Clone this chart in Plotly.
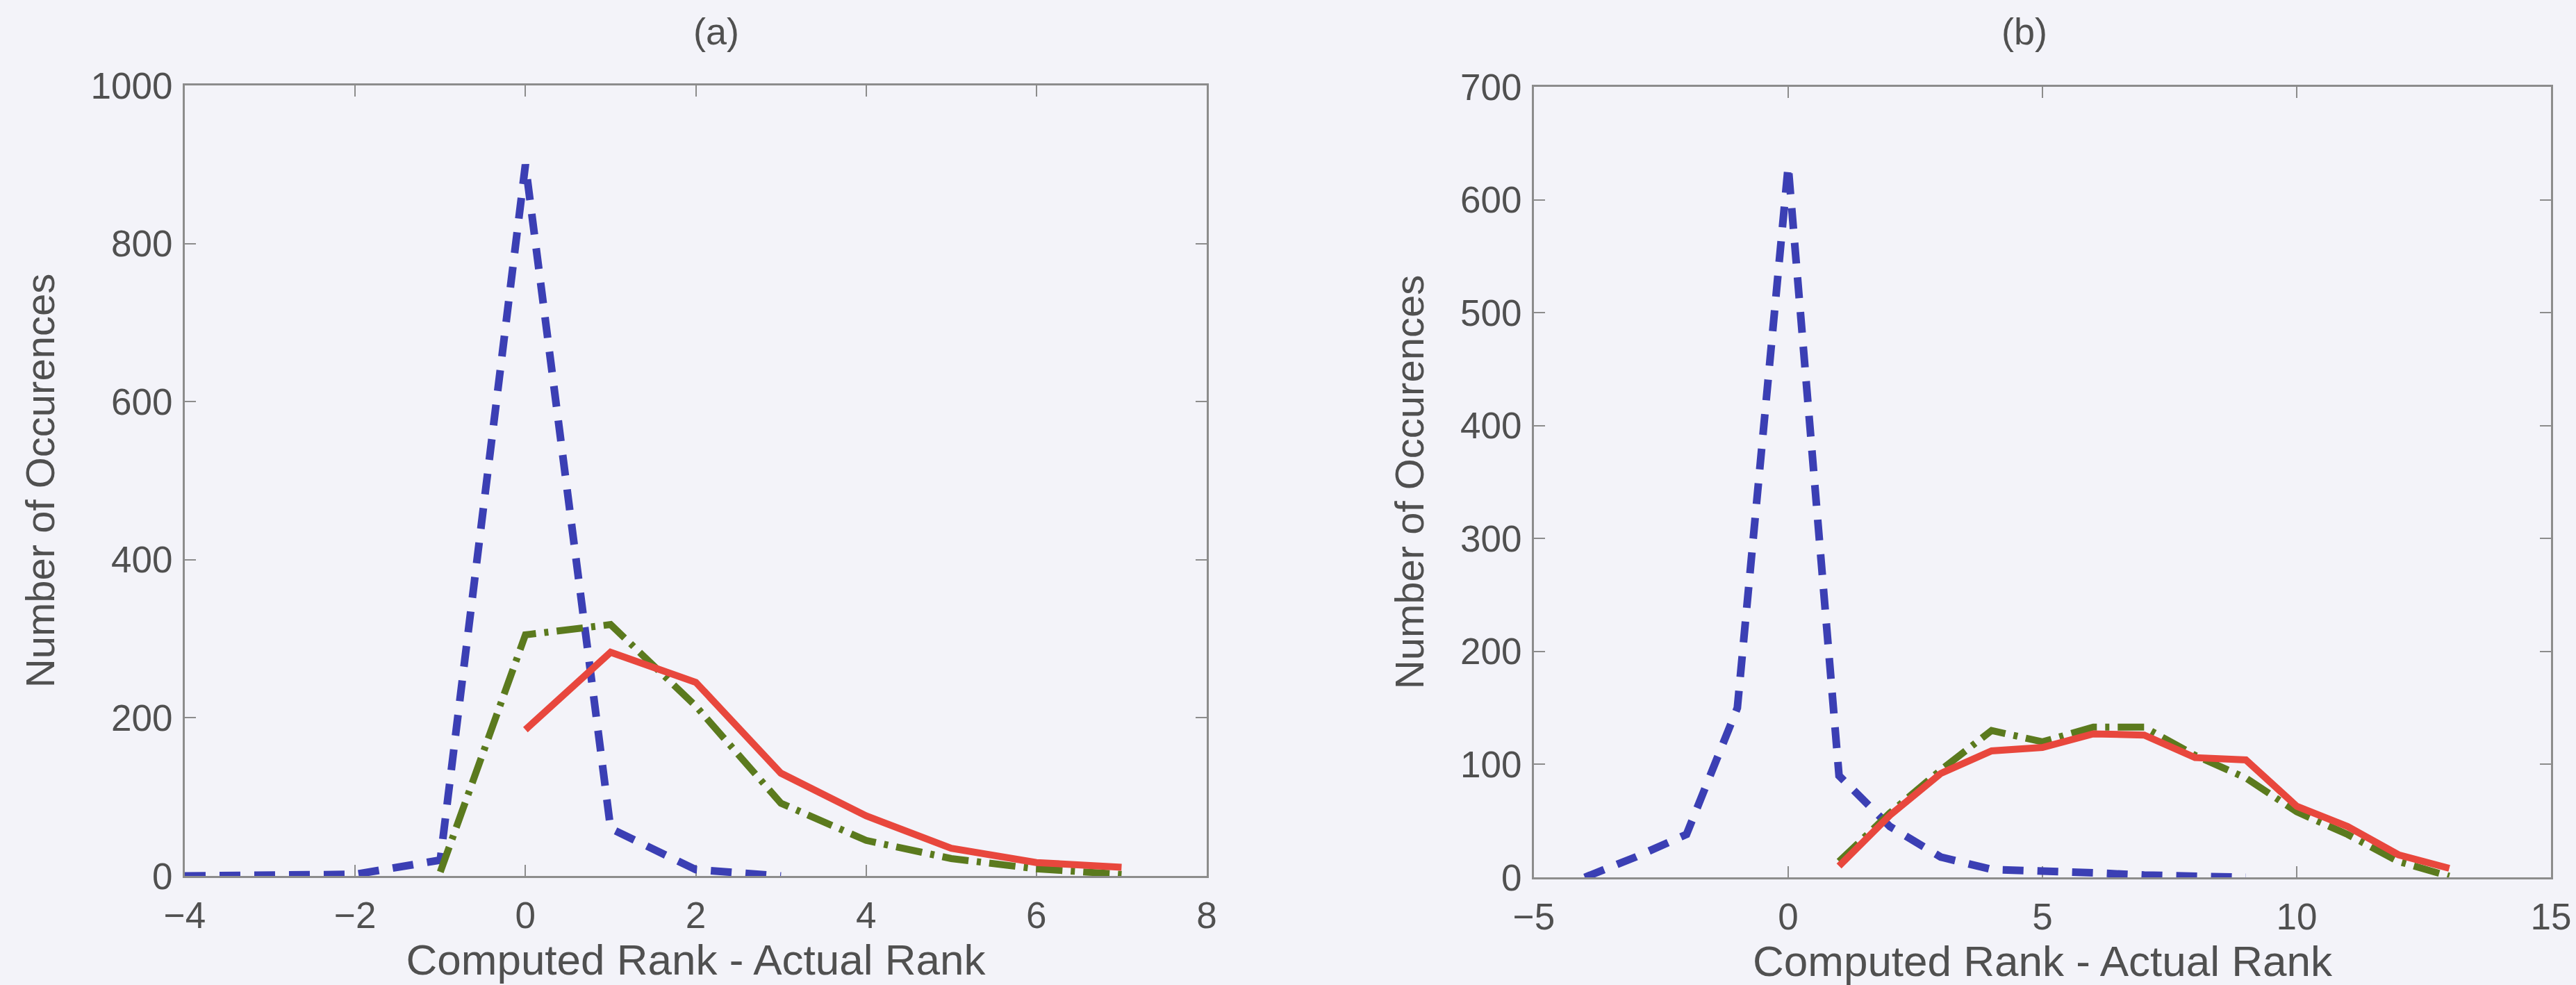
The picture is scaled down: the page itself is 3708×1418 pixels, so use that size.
import plotly.graph_objects as go

# ---------------- data ----------------
# Panel (a)
a_blue_x = [-4, -3, -2, -1, 0, 1, 2, 3]
a_blue_y = [0, 0, 2, 20, 900, 60, 8, 0]
a_green_x = [-1, 0, 1, 2, 3, 4, 5, 6, 7]
a_green_y = [5, 305, 318, 215, 92, 45, 22, 9, 2]
a_red_x = [0, 1, 2, 3, 4, 5, 6, 7]
a_red_y = [185, 283, 245, 130, 76, 35, 17, 11]

# Panel (b)
b_blue_x = [-4, -3, -2, -1, 0, 1, 2, 3, 4, 5, 6, 7, 8, 9]
b_blue_y = [0, 18, 38, 150, 630, 90, 45, 18, 7, 6, 4, 2, 1, 0]
b_green_x = [1, 2, 3, 4, 5, 6, 7, 8, 9, 10, 11, 12, 13]
b_green_y = [14, 57, 95, 130, 120, 133, 133, 108, 88, 58, 38, 14, 1]
b_red_x = [1, 2, 3, 4, 5, 6, 7, 8, 9, 10, 11, 12, 13]
b_red_y = [10, 55, 92, 112, 115, 127, 126, 106, 104, 63, 45, 20, 8]

a_xticks = [-4, -2, 0, 2, 4, 6, 8]
a_yticks = [0, 200, 400, 600, 800, 1000]
b_xticks = [-5, 0, 5, 10, 15]
b_yticks = [0, 100, 200, 300, 400, 500, 600, 700]

panel_titles = ["(a)", "(b)"]
x_title = "Computed Rank - Actual Rank"
y_title = "Number of Occurences"

# ---------------- style ----------------
BG = "#F3F3F9"
AXC = "#8C8C8C"
TXT = "#505050"
BLUE = "#3B3FB4"
GREEN = "#5B7A1E"
RED = "#E8473D"
FONT = "Liberation Sans, Arial, sans-serif"

fig = go.Figure()

def add(x, y, color, dash, xa, ya, width=10):
    fig.add_trace(go.Scatter(x=x, y=y, mode="lines", xaxis=xa, yaxis=ya,
                             line=dict(color=color, width=width, dash=dash),
                             showlegend=False, hoverinfo="skip"))

BLUE_DASH = "30px,20px"
GREEN_DASH = "38px,12px,6px,12px"

add(a_blue_x, a_blue_y, BLUE, BLUE_DASH, "x", "y", 11)
add(a_green_x, a_green_y, GREEN, GREEN_DASH, "x", "y", 10)
add(a_red_x, a_red_y, RED, "solid", "x", "y", 10)

add(b_blue_x, b_blue_y, BLUE, BLUE_DASH, "x2", "y2", 11)
add(b_green_x, b_green_y, GREEN, GREEN_DASH, "x2", "y2", 10)
add(b_red_x, b_red_y, RED, "solid", "x2", "y2", 10)

W, H = 3708, 1418
def fx(px):
    return px / W
def fy(py):
    return 1 - py / H

common = dict(showline=True, linecolor=AXC, linewidth=3, mirror="ticks",
              ticks="inside", ticklen=16, tickwidth=2, tickcolor=AXC,
              showgrid=False, zeroline=False, layer="below traces",
              automargin=False,
              tickfont=dict(family=FONT, size=53, color=TXT))

xtitle = dict(text=x_title, font=dict(family=FONT, size=62, color=TXT), standoff=0)
ytitle = dict(text=y_title, font=dict(family=FONT, size=58, color=TXT), standoff=34)

fig.update_layout(
    template="none",
    width=W, height=H,
    margin=dict(l=0, r=0, t=0, b=0, autoexpand=False),
    paper_bgcolor=BG, plot_bgcolor=BG,
    xaxis=dict(domain=[fx(266), fx(1737)], range=[-4, 8], tickvals=a_xticks,
               anchor="y", title=xtitle, ticklabelstandoff=8, **common),
    yaxis=dict(domain=[fy(1261), fy(123)], range=[0, 1000], tickvals=a_yticks,
               anchor="x", title=ytitle, ticklabelstandoff=4, **common),
    xaxis2=dict(domain=[fx(2208), fx(3672)], range=[-5, 15], tickvals=b_xticks,
                anchor="y2", title=xtitle, ticklabelstandoff=8, **common),
    yaxis2=dict(domain=[fy(1263), fy(125)], range=[0, 700], tickvals=b_yticks,
                anchor="x2", title=ytitle, ticklabelstandoff=4, **common),
)

for i, xc in enumerate([1031, 2914]):
    fig.add_annotation(text=panel_titles[i], x=fx(xc), y=fy(45),
                       xref="paper", yref="paper", showarrow=False,
                       xanchor="center", yanchor="middle",
                       font=dict(family=FONT, size=54, color=TXT))

fig.write_html("out.html",
               config={"displayModeBar": False},
               post_script="document.body.style.margin='0px';"
                           "document.body.style.overflow='hidden';")
